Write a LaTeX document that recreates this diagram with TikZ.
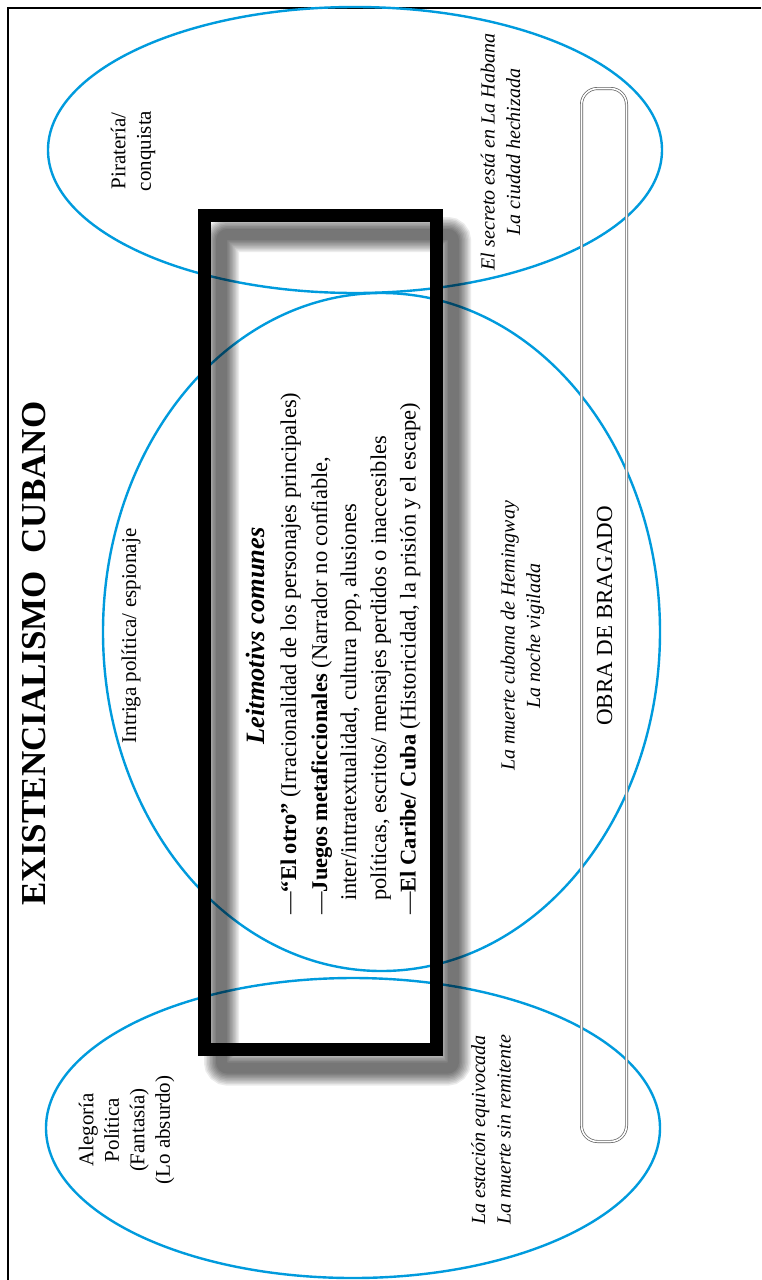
\documentclass[tikz,border=0pt]{standalone}
\usepackage{fontspec}
\setmainfont{Liberation Serif}

\definecolor{vennBlue}{RGB}{0,155,221}
\definecolor{pillGray}{RGB}{95,95,95}

\begin{document}
\begin{tikzpicture}[x=1pt,y=-1pt,
    zone/.style={draw=vennBlue, line width=2.4pt},
    heading/.style={font=\fontsize{35}{40}\selectfont\bfseries,
      rotate=90, anchor=base, inner sep=0pt},
    genre/.style={font=\fontsize{21}{25.5}\selectfont,
      rotate=90, align=center, inner sep=0pt},
    novel/.style={font=\fontsize{20}{25.5}\selectfont\itshape,
      rotate=90, align=center, inner sep=0pt},
    motif/.style={font=\fontsize{22.5}{30}\selectfont,
      rotate=90, anchor=base west, inner sep=0pt}]
  \useasboundingbox (0,0) rectangle (761,1280);
  \fill[white] (0,0) rectangle (761,1280);
  % page frame, only its top and left sides are on the page
  \draw[line width=2.5pt] (761,8) -- (8,8) -- (8,1280);

  \draw[zone] (355,150) ellipse (307 and 143);
  \draw[zone] (381.5,632) ellipse (278.5 and 339);
  \draw[zone] (353,1128) ellipse (307 and 150);

  \draw[pillGray, double=white, double distance=1.6pt, line width=.7pt,
    rounded corners=16pt] (581.5,88.5) rectangle (626.5,1141.5);

  % soft shadow under the box
  \foreach \w in {35,32,...,11}
    \draw[black, opacity=.08, line width=\w pt, rounded corners=6pt,
      shift={(17,19)}] (204.5,215.5) rectangle (436.5,1049);
  \draw[line width=13pt] (204.5,215.5) rectangle (436.5,1049);

  \node[heading] (title) at (45,653.5) {EXISTENCIALISMO\ \ CUBANO};

  \node[genre] (pirateria) at (133,151) {Piratería/\\conquista};
  \node[novel] (habana) at (500.5,152)
    {El secreto está en La Habana\\La ciudad hechizada};
  \node[genre] (intriga) at (131,636) {Intriga política/ espionaje};
  \node[novel] (hemingway) at (522.5,636)
    {La muerte cubana de Hemingway\\La noche vigilada};
  \node[font=\fontsize{23}{27}\selectfont, rotate=90, anchor=base,
    inner sep=0pt] (obra) at (612,616) {OBRA DE BRAGADO};
  \node[genre] (alegoria) at (126.5,1130)
    {Alegoría\\Política\\(Fantasía)\\(Lo absurdo)};
  \node[novel] (estacion) at (491,1130)
    {La estación equivocada\\La muerte sin remitente};

  \node[font=\fontsize{26.5}{30}\selectfont\bfseries\itshape, rotate=90,
    anchor=base, inner sep=0pt] (leit) at (264,636) {Leitmotivs comunes};
  \node[motif] (otro) at (296,915)
    {—\textbf{“El otro”} (Irracionalidad de los personajes principales)};
  \node[motif] (juegos) at (327,915)
    {—\textbf{Juegos metaficcionales} (Narrador no confiable,};
  \node[motif] (inter) at (356,901)
    {inter/intratextualidad, cultura pop, alusiones};
  \node[motif] (politicas) at (386,901)
    {políticas, escritos/ mensajes perdidos o inaccesibles};
  \node[motif] (caribe) at (415.5,915)
    {—\textbf{El Caribe/ Cuba} (Historicidad, la prisión y el escape)};
\end{tikzpicture}
\end{document}
